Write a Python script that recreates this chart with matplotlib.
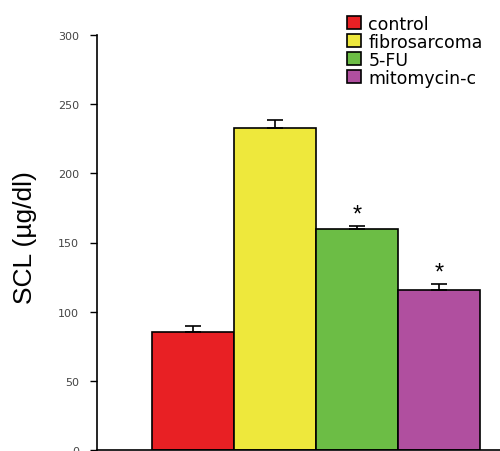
import numpy as np
import matplotlib
matplotlib.use("Agg")
from matplotlib import pyplot as plt

# data
groups = ["control", "fibrosarcoma", "5-FU", "mitomycin-c"]
scl = [85.5, 232.5, 159.5, 115.5]
sem = [4.5, 6.0, 2.5, 4.5]
signif = [False, False, True, True]
colors = ["#e82024", "#eee83c", "#6cbd45", "#b04f9f"]

plt.rcParams["font.family"] = ["Liberation Sans", "DejaVu Sans"]

fig = plt.figure(figsize=(5, 4.52), dpi=100)
# axes box placed in pixels: left 97, right 500, bottom 451, top 36
ax = fig.add_axes([97 / 500, 1 / 452, 403 / 500, 415 / 452])

x = np.arange(len(groups))
bars = ax.bar(x, scl, width=1.0, color=colors, edgecolor="black", linewidth=1.2,
              label=groups, zorder=2)
ax.errorbar(x, scl, yerr=[np.zeros(len(sem)), sem], fmt="none", ecolor="black",
            elinewidth=1.2, capsize=6, capthick=1.2, zorder=3)

# asterisks for significant groups
for xi, v, e, s in zip(x, scl, sem, signif):
    if s:
        ax.text(xi, v + e, "*", ha="center", va="bottom", fontsize=17)

ax.set_xlim(-1.17, 3.74)
ax.set_ylim(0, 300)
ax.set_yticks(np.arange(0, 301, 50))
ax.set_xticks([])
ax.tick_params(axis="y", labelsize=8, labelcolor="#444444", length=5, width=1, pad=8)
for t in ax.get_yticklabels():
    t.set_family("DejaVu Sans")
ax.spines["top"].set_visible(False)
ax.spines["right"].set_visible(False)
ax.spines["left"].set_linewidth(1.2)
ax.spines["bottom"].set_linewidth(1.2)
ax.set_ylabel("SCL (µg/dl)", fontsize=19)
ax.yaxis.set_label_coords(-0.15, 0.515)

leg = ax.legend(handles=bars, labels=groups, loc="upper left",
                bbox_to_anchor=(0.60, 1.07), frameon=False,
                prop={"family": "DejaVu Sans", "size": 12.5},
                handlelength=0.75, handleheight=0.75, handletextpad=0.45,
                labelspacing=0.0, borderpad=0.0)

fig.savefig("out.png", dpi=100)
